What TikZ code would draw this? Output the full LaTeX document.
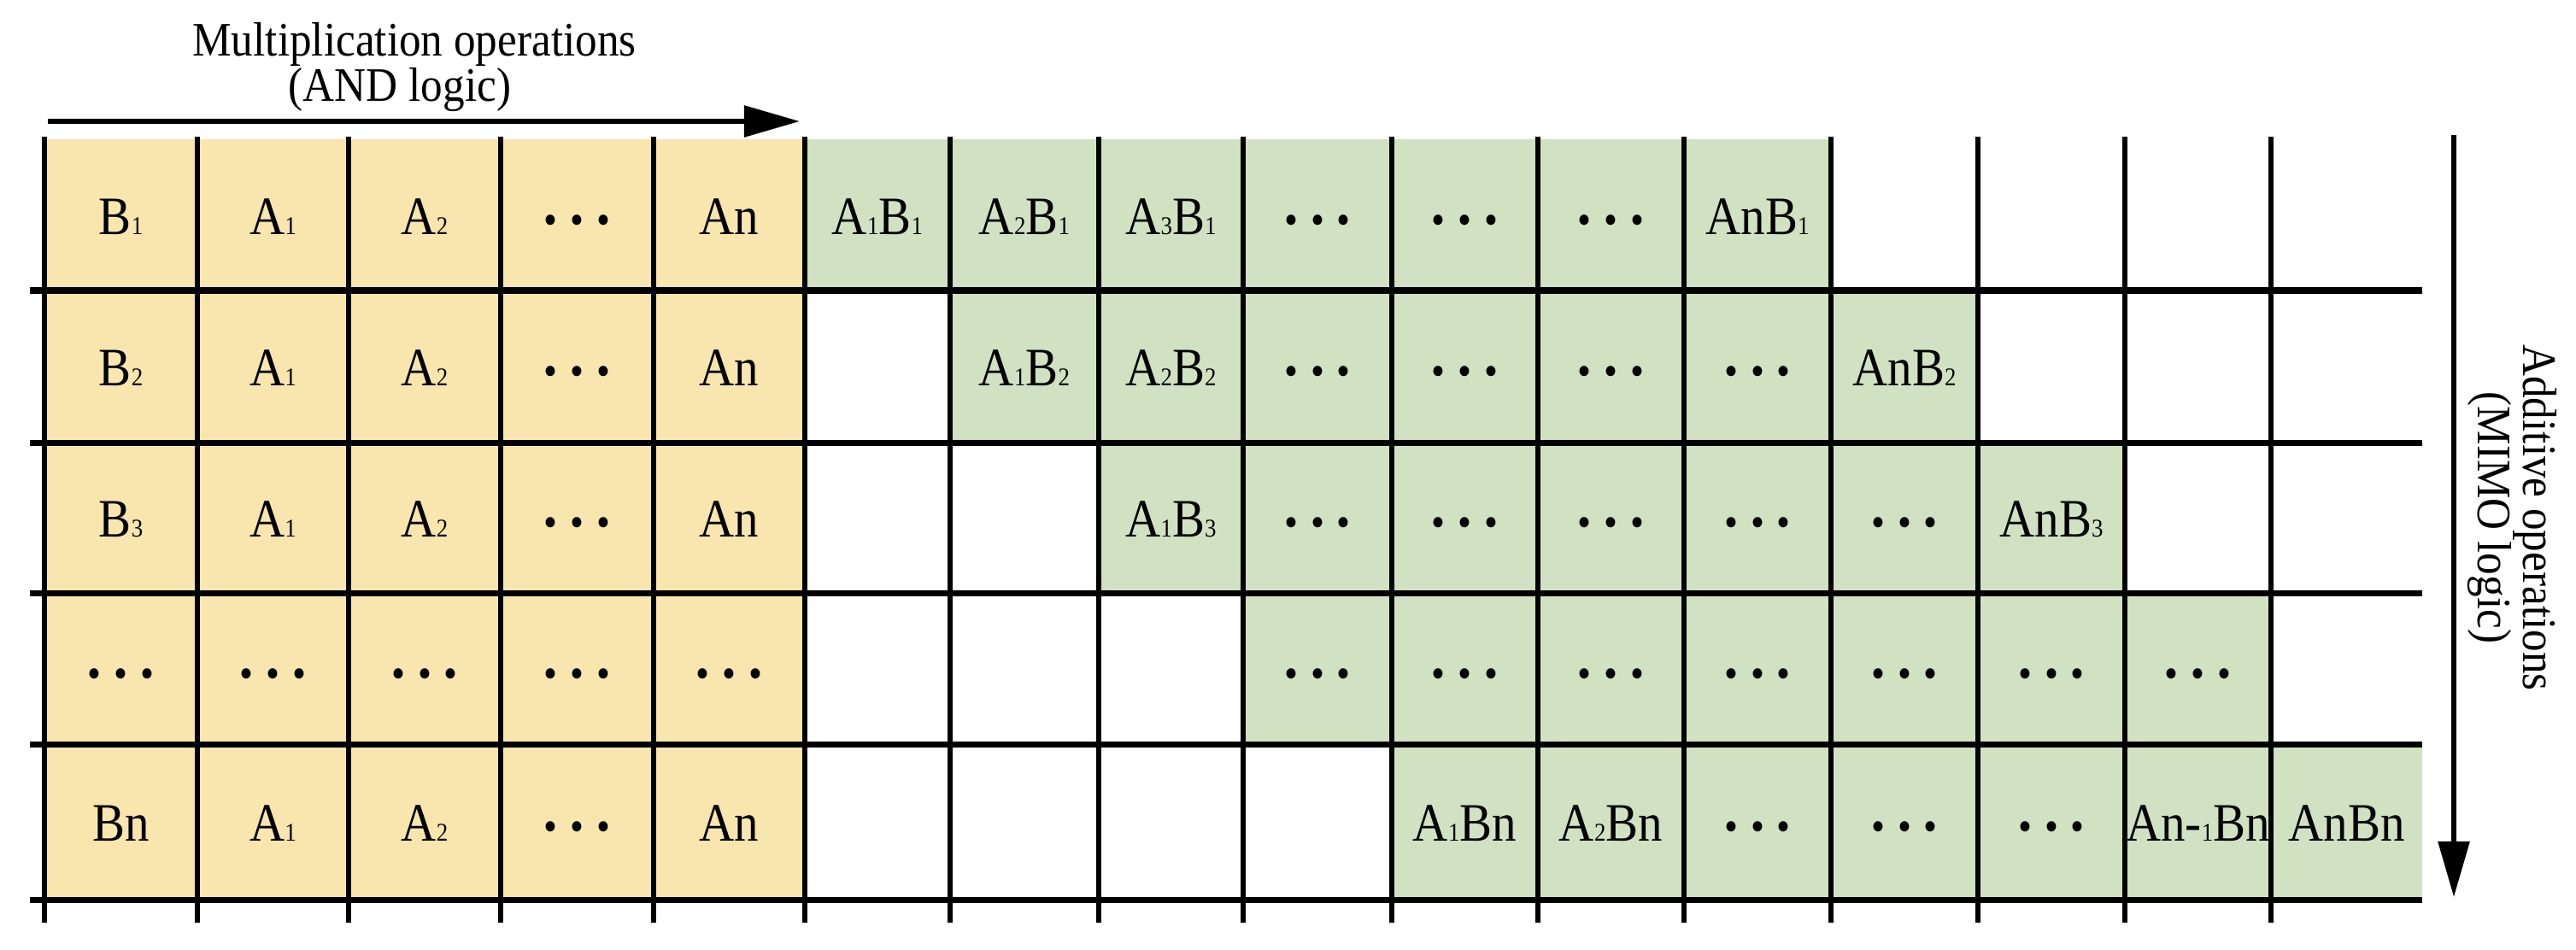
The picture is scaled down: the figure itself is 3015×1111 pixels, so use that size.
\documentclass[tikz,border=0pt]{standalone}
\usepackage{fontspec}
\setmainfont{Liberation Serif}
\usetikzlibrary{arrows.meta}
\definecolor{ylw}{HTML}{F8E6AE}
\definecolor{grn}{HTML}{D0E2C1}
\newcommand\sm[1]{{\fontsize{8.5pt}{8.5pt}\selectfont #1}}
\newcommand\bdot{\scalebox{0.8}{\textbullet}}
\newcommand\dts{\bdot\hspace{4.7pt}\bdot\hspace{4.7pt}\bdot}
\def\XS{{52,231,408,586,765,942,1112,1286,1455,1629,1800,1971,2143,2315,2487,2658,2835}}
\def\YS{{163,340,518,694,871,1053}}
\newcommand\cell[4]{%
  \pgfmathsetmacro\xa{\XS[#2]}\pgfmathsetmacro\xb{\XS[#2+1]}%
  \pgfmathsetmacro\ya{\YS[#1]}\pgfmathsetmacro\yb{\YS[#1+1]}%
  \pgfmathsetmacro\cw{(\xb-\xa)*0.01}\pgfmathsetmacro\ch{(\yb-\ya)*0.01}%
  \node[cellbox, fill=#3, minimum width=\cw cm, minimum height=\ch cm]
    (c-#1-#2) at ({(\xa+\xb)/2},{(\ya+\yb)/2}) {\scalebox{0.9}[1]{#4}};}
\tikzset{
  cellbox/.style={draw=none, inner sep=0pt, outer sep=0pt, text height=13pt,
    text depth=0pt, font=\fontsize{18pt}{20pt}\selectfont},
  hline/.style={line width=2pt},
  vline/.style={line width=1.7pt},
  arr/.style={line width=1.6pt, -{Triangle[length=0.65cm, width=0.36cm]}},
  lbl/.style={inner sep=0pt, font=\fontsize{16pt}{18pt}\selectfont, anchor=base}
}
\begin{document}
\begin{tikzpicture}[x=0.01cm, y=-0.01cm]
\useasboundingbox (0,0) rectangle (3015,1111);
% yellow block
\foreach \t [count=\i from 0] in {B\sm1, A\sm1, A\sm2, \dts, An} {\cell{0}{\i}{ylw}{\t}}
\foreach \t [count=\i from 0] in {B\sm2, A\sm1, A\sm2, \dts, An} {\cell{1}{\i}{ylw}{\t}}
\foreach \t [count=\i from 0] in {B\sm3, A\sm1, A\sm2, \dts, An} {\cell{2}{\i}{ylw}{\t}}
\foreach \t [count=\i from 0] in {\dts, \dts, \dts, \dts, \dts} {\cell{3}{\i}{ylw}{\t}}
\foreach \t [count=\i from 0] in {Bn, A\sm1, A\sm2, \dts, An} {\cell{4}{\i}{ylw}{\t}}
% green staircase
\foreach \t [count=\i from 5] in {A\sm1B\sm1, A\sm2B\sm1, A\sm3B\sm1, \dts, \dts, \dts, AnB\sm1} {\cell{0}{\i}{grn}{\t}}
\foreach \t [count=\i from 6] in {A\sm1B\sm2, A\sm2B\sm2, \dts, \dts, \dts, \dts, AnB\sm2} {\cell{1}{\i}{grn}{\t}}
\foreach \t [count=\i from 7] in {A\sm1B\sm3, \dts, \dts, \dts, \dts, \dts, AnB\sm3} {\cell{2}{\i}{grn}{\t}}
\foreach \t [count=\i from 8] in {\dts, \dts, \dts, \dts, \dts, \dts, \dts} {\cell{3}{\i}{grn}{\t}}
\foreach \t [count=\i from 9] in {A\sm1Bn, A\sm2Bn, \dts, \dts, \dts, An-\sm1Bn, AnBn} {\cell{4}{\i}{grn}{\t}}
% grid lines
\foreach \y in {340,518,694,871,1053} \draw[hline] (35,\y) -- (2835,\y);
\foreach \x in {52,231,408,586,765,942,1112,1286,1455,1629,1800,1971,2143,2315,2487,2658}
  \draw[vline] (\x,160) -- (\x,1080);
% arrows
\coordinate (m0) at (56,142);
\coordinate (m1) at (936,142);
\draw[arr] (m0) -- (m1);
\coordinate (d0) at (2872,158);
\coordinate (d1) at (2872,1050);
\draw[arr] (d0) -- (d1);
% labels
\node[lbl] (mul1) at (485,65) {\scalebox{0.91}[1]{Multiplication operations}};
\node[lbl] (mul2) at (468,118) {\scalebox{0.91}[1]{(AND logic)}};
\node[lbl, rotate=-90] (add1) at (2953,606) {\scalebox{0.91}[1]{Additive operations}};
\node[lbl, rotate=-90] (add2) at (2900,606) {\scalebox{0.91}[1]{(MIMO logic)}};
\end{tikzpicture}
\end{document}
